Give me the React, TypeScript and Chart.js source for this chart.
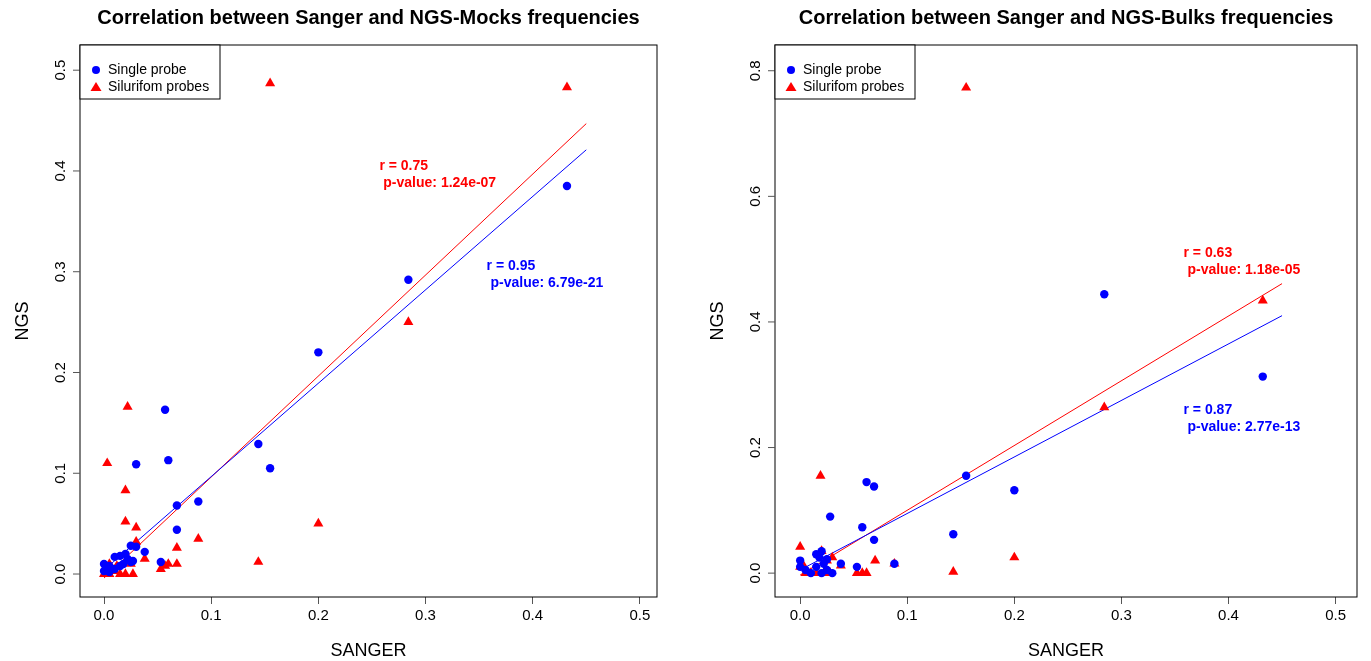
import { useEffect, useRef } from "react";
import { Chart, registerables } from "chart.js";

Chart.register(...registerables);

// Left panel: Sanger vs NGS-Mocks
const mockSingleX = [0.432, 0.284, 0.2, 0.144, 0.155, 0.057, 0.06, 0.03, 0.088, 0.068, 0.068, 0.053, 0.038, 0.03, 0.025, 0.027, 0.02, 0.015, 0.01, 0.025, 0.018, 0.005, 0, 0, 0.005, 0.01, 0.015, 0.022];
const mockSingleY = [0.385, 0.292, 0.22, 0.129, 0.105, 0.163, 0.113, 0.109, 0.072, 0.068, 0.044, 0.012, 0.022, 0.027, 0.028, 0.013, 0.02, 0.018, 0.017, 0.012, 0.01, 0.008, 0.01, 0.003, 0.002, 0.005, 0.008, 0.015];
const mockSiluX = [0.155, 0.432, 0.284, 0.2, 0.144, 0.022, 0.003, 0.02, 0.02, 0.03, 0.088, 0.068, 0.03, 0.038, 0.068, 0.06, 0.053, 0.057, 0.025, 0.005, 0.003, 0.01, 0.015, 0.02, 0.027, 0.005, 0, 0.012];
const mockSiluY = [0.487, 0.483, 0.25, 0.05, 0.012, 0.166, 0.11, 0.083, 0.052, 0.046, 0.035, 0.026, 0.032, 0.015, 0.01, 0.01, 0.005, 0.008, 0.01, 0.01, 0.005, 0.003, 0, 0, 0, 0, 0, 0.008];
const mockFitX = [0, 0.45];
const mockSingleFit = [0.004, 0.421];
const mockSiluFit = [-0.004, 0.447];

// Right panel: Sanger vs NGS-Bulks
const bulkSingleX = [0.284, 0.432, 0.155, 0.2, 0.062, 0.069, 0.028, 0.058, 0.143, 0.069, 0.088, 0.053, 0.038, 0.02, 0.015, 0.018, 0.025, 0, 0, 0.005, 0.01, 0.02, 0.025, 0.015, 0.03, 0.022];
const bulkSingleY = [0.444, 0.313, 0.155, 0.132, 0.145, 0.138, 0.09, 0.073, 0.062, 0.053, 0.015, 0.01, 0.015, 0.035, 0.03, 0.025, 0.022, 0.02, 0.01, 0.005, 0, 0, 0.005, 0.01, 0, 0.015];
const bulkSiluX = [0.155, 0.432, 0.284, 0.019, 0, 0.02, 0.03, 0.2, 0.088, 0.07, 0.038, 0.025, 0.143, 0.053, 0.058, 0.062, 0, 0.005, 0.01, 0.015, 0.022, 0.028, 0.002];
const bulkSiluY = [0.773, 0.434, 0.264, 0.155, 0.042, 0.035, 0.025, 0.025, 0.015, 0.02, 0.012, 0.02, 0.002, 0, 0, 0, 0.01, 0, 0, 0, 0, 0, 0.015];
const bulkFitX = [0, 0.45];
const bulkSingleFit = [0.005, 0.41];
const bulkSiluFit = [-0.003, 0.461];

const xTicks = [0, 0.1, 0.2, 0.3, 0.4, 0.5];
const mockYTicks = [0, 0.1, 0.2, 0.3, 0.4, 0.5];
const bulkYTicks = [0, 0.2, 0.4, 0.6, 0.8];

const FONT = "'Liberation Sans', Arial, sans-serif";

type Note = { x: number; y: number; color: string; r: string; p: string };

type PanelProps = {
  title: string;
  sX: number[]; sY: number[]; tX: number[]; tY: number[];
  fitX: number[]; fitS: number[]; fitT: number[];
  xRange: [number, number]; yRange: [number, number];
  yTicks: number[];
  notes: Note[];
  left: number; right: number;
};

const pts = (xs: number[], ys: number[]) => xs.map((x, i) => ({ x, y: ys[i] }));

const Panel = (p: PanelProps) => {
  const ref = useRef<HTMLCanvasElement>(null);
  useEffect(() => {
    const deco = {
      id: "deco",
      afterDraw(chart: any) {
        const ctx = chart.ctx;
        const a = chart.chartArea;
        const xs = chart.scales.x, ys = chart.scales.y;
        ctx.save();
        ctx.strokeStyle = "#000";
        ctx.lineWidth = 1;
        ctx.strokeRect(a.left, a.top, a.right - a.left, a.bottom - a.top);
        // y ticks (vertical labels, R style)
        ctx.fillStyle = "#000";
        ctx.font = `15px ${FONT}`;
        ctx.strokeStyle = "#555";
        p.yTicks.forEach((v) => {
          const y = ys.getPixelForValue(v);
          ctx.beginPath();
          ctx.moveTo(a.left, y);
          ctx.lineTo(a.left - 7, y);
          ctx.stroke();
          ctx.save();
          ctx.translate(a.left - 12, y);
          ctx.rotate(-Math.PI / 2);
          ctx.textAlign = "center";
          ctx.textBaseline = "bottom";
          ctx.fillText(v.toFixed(1), 0, 0);
          ctx.restore();
        });
        // titles
        ctx.fillStyle = "#000";
        ctx.font = `bold 20px ${FONT}`;
        ctx.textAlign = "center";
        ctx.textBaseline = "middle";
        ctx.fillText(p.title, (a.left + a.right) / 2, 18);
        ctx.font = `18px ${FONT}`;
        ctx.fillText("SANGER", (a.left + a.right) / 2, 651);
        ctx.save();
        ctx.translate(a.left - 57, (a.top + a.bottom) / 2);
        ctx.rotate(-Math.PI / 2);
        ctx.fillText("NGS", 0, 0);
        ctx.restore();
        // legend box
        ctx.fillStyle = "#fff";
        ctx.fillRect(a.left, a.top, 140, 54);
        ctx.strokeStyle = "#000";
        ctx.strokeRect(a.left, a.top, 140, 54);
        ctx.font = `14px ${FONT}`;
        ctx.textAlign = "left";
        ctx.fillStyle = "#0000ff";
        ctx.beginPath();
        ctx.arc(a.left + 16, a.top + 25, 4, 0, Math.PI * 2);
        ctx.fill();
        ctx.fillStyle = "#000";
        ctx.fillText("Single probe", a.left + 28, a.top + 25);
        ctx.fillStyle = "#ff0000";
        ctx.beginPath();
        ctx.moveTo(a.left + 16, a.top + 37);
        ctx.lineTo(a.left + 21.5, a.top + 46);
        ctx.lineTo(a.left + 10.5, a.top + 46);
        ctx.closePath();
        ctx.fill();
        ctx.fillStyle = "#000";
        ctx.fillText("Silurifom probes", a.left + 28, a.top + 42);
        // annotations
        ctx.font = `bold 14px ${FONT}`;
        p.notes.forEach((n) => {
          const x = xs.getPixelForValue(n.x), y = ys.getPixelForValue(n.y);
          ctx.fillStyle = n.color;
          ctx.fillText(n.r, x, y);
          ctx.fillText(" p-value: " + n.p, x, y + 17);
        });
        ctx.restore();
      },
    };
    const chart = new Chart(ref.current as HTMLCanvasElement, {
      type: "scatter",
      data: {
        datasets: [
          { data: pts(p.sX, p.sY), backgroundColor: "#0000ff", borderWidth: 0, pointStyle: "circle", pointRadius: 4.2 },
          { data: pts(p.tX, p.tY), backgroundColor: "#ff0000", borderWidth: 0, pointStyle: "triangle", pointRadius: 5.8 },
          { type: "line", data: pts(p.fitX, p.fitS), borderColor: "#0000ff", borderWidth: 1, pointRadius: 0 },
          { type: "line", data: pts(p.fitX, p.fitT), borderColor: "#ff0000", borderWidth: 1, pointRadius: 0 },
        ],
      } as any,
      options: {
        animation: false,
        responsive: false,
        layout: { padding: { top: 45, right: p.right, left: 0, bottom: 0 } },
        plugins: { legend: { display: false }, tooltip: { enabled: false } },
        scales: {
          x: {
            type: "linear",
            min: p.xRange[0],
            max: p.xRange[1],
            afterBuildTicks: (s: any) => { s.ticks = xTicks.map((v) => ({ value: v })); },
            afterFit: (s: any) => { s.height = 64; },
            grid: { drawOnChartArea: false, tickLength: 7, color: "#555" },
            border: { display: false },
            ticks: { color: "#000", font: { family: FONT, size: 15 }, callback: (v: any) => Number(v).toFixed(1), padding: 3, maxRotation: 0 },
          },
          y: {
            type: "linear",
            min: p.yRange[0],
            max: p.yRange[1],
            afterFit: (s: any) => { s.width = p.left; },
            grid: { display: false },
            border: { display: false },
            ticks: { display: false },
          },
        },
      } as any,
      plugins: [deco],
    });
    return () => chart.destroy();
  }, []);
  return <canvas ref={ref} width={685} height={661} style={{ display: "block" }} />;
};

const App = () => (
  <div style={{ position: "fixed", left: 0, top: 0, width: 1371, height: 661, background: "#fff", display: "flex" }}>
    <Panel
      title="Correlation between Sanger and NGS-Mocks frequencies"
      sX={mockSingleX} sY={mockSingleY} tX={mockSiluX} tY={mockSiluY}
      fitX={mockFitX} fitS={mockSingleFit} fitT={mockSiluFit}
      xRange={[-0.0224, 0.516]} yRange={[-0.0228, 0.525]} yTicks={mockYTicks}
      notes={[
        { x: 0.257, y: 0.405, color: "#ff0000", r: "r = 0.75", p: "1.24e-07" },
        { x: 0.357, y: 0.306, color: "#0000ff", r: "r = 0.95", p: "6.79e-21" },
      ]}
      left={80} right={28}
    />
    <div style={{ width: 1 }} />
    <Panel
      title="Correlation between Sanger and NGS-Bulks frequencies"
      sX={bulkSingleX} sY={bulkSingleY} tX={bulkSiluX} tY={bulkSiluY}
      fitX={bulkFitX} fitS={bulkSingleFit} fitT={bulkSiluFit}
      xRange={[-0.0235, 0.52]} yRange={[-0.038, 0.841]} yTicks={bulkYTicks}
      notes={[
        { x: 0.358, y: 0.51, color: "#ff0000", r: "r = 0.63", p: "1.18e-05" },
        { x: 0.358, y: 0.26, color: "#0000ff", r: "r = 0.87", p: "2.77e-13" },
      ]}
      left={89} right={14}
    />
  </div>
);

export default App;
